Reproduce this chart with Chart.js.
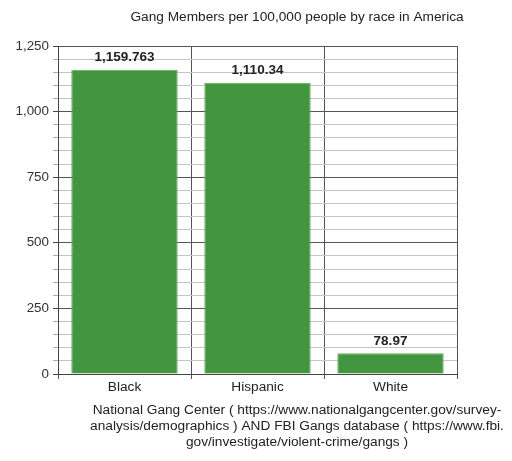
<!DOCTYPE html>
<html>
<head>
<meta charset="utf-8">
<script src="https://cdn.jsdelivr.net/npm/chart.js@4"></script>
<style>
  body { margin: 0; background: #fff; }
  #wrap { width: 512px; height: 461px; }
</style>
</head>
<body>
<div id="wrap"><canvas id="grafico" width="512" height="461"></canvas></div>
<script>
const racas = ["Black", "Hispanic", "White"];
const membrosPor100k = [1159.763, 1110.34, 78.97];
const rotulosValor = ["1,159.763", "1,110.34", "78.97"];
const tituloGrafico = "Gang Members per 100,000 people by race in America";
const fonteLinhas = [
  "National Gang Center ( https://www.nationalgangcenter.gov/survey-",
  "analysis/demographics ) AND FBI Gangs database ( https://www.fbi.",
  "gov/investigate/violent-crime/gangs )"
];

const FONTE = "'Liberation Sans', Arial, sans-serif";

// titulo e rodape desenhados a mao, centralizados como no original
const textosPlugin = {
  id: "textos",
  afterDraw(chart) {
    const ctx = chart.ctx;
    ctx.save();
    ctx.fillStyle = "#222";
    ctx.textAlign = "center";
    ctx.textBaseline = "middle";
    ctx.font = "13.7px " + FONTE;
    ctx.fillText(tituloGrafico, 297, 17);
    ctx.font = "13.7px " + FONTE;
    fonteLinhas.forEach((l, i) => ctx.fillText(l, 297, 410.5 + i * 16));
    ctx.restore();
  }
};

// valores em cima das barras
const rotulosPlugin = {
  id: "rotulos",
  afterDatasetsDraw(chart) {
    const ctx = chart.ctx;
    const meta = chart.getDatasetMeta(0);
    ctx.save();
    ctx.fillStyle = "#222";
    ctx.font = "bold 13.5px " + FONTE;
    ctx.textAlign = "center";
    ctx.textBaseline = "middle";
    meta.data.forEach((bar, i) => {
      ctx.fillText(rotulosValor[i], bar.x, bar.y - 12);
    });
    ctx.restore();
  }
};

const ctx = document.getElementById("grafico").getContext("2d");
new Chart(ctx, {
  type: "bar",
  data: {
    labels: racas,
    datasets: [{
      data: membrosPor100k,
      backgroundColor: "#43963f",
      borderColor: "#5fae55",
      borderWidth: 1,
      barPercentage: 0.8,
      categoryPercentage: 1
    }]
  },
  options: {
    responsive: false,
    animation: false,
    layout: { padding: { top: 46, right: 55, bottom: 65, left: 0 } },
    plugins: {
      legend: { display: false },
      title: { display: false },
      tooltip: { enabled: false }
    },
    scales: {
      x: {
        afterFit: s => { s.height = 22; },
        grid: { offset: true, color: "#555", lineWidth: 1, tickLength: 5 },
        border: { color: "#444" },
        ticks: { color: "#222", padding: 0, font: { family: FONTE, size: 13.7 } }
      },
      y: {
        min: 0,
        max: 1250,
        afterFit: s => { s.width = 58; },
        ticks: {
          stepSize: 50,
          autoSkip: false,
          padding: 4,
          color: "#333",
          font: { family: FONTE, size: 13.4 },
          callback: v => v % 250 === 0 ? v.toLocaleString("en-US") : ""
        },
        grid: {
          tickLength: 5,
          color: c => c.tick && c.tick.value % 250 === 0 ? "#555" : "#c4c4c4",
          tickColor: c => c.tick && c.tick.value % 250 === 0 ? "#444" : "#aaa"
        },
        border: { color: "#444" }
      }
    }
  },
  plugins: [textosPlugin, rotulosPlugin]
});
</script>
</body>
</html>
